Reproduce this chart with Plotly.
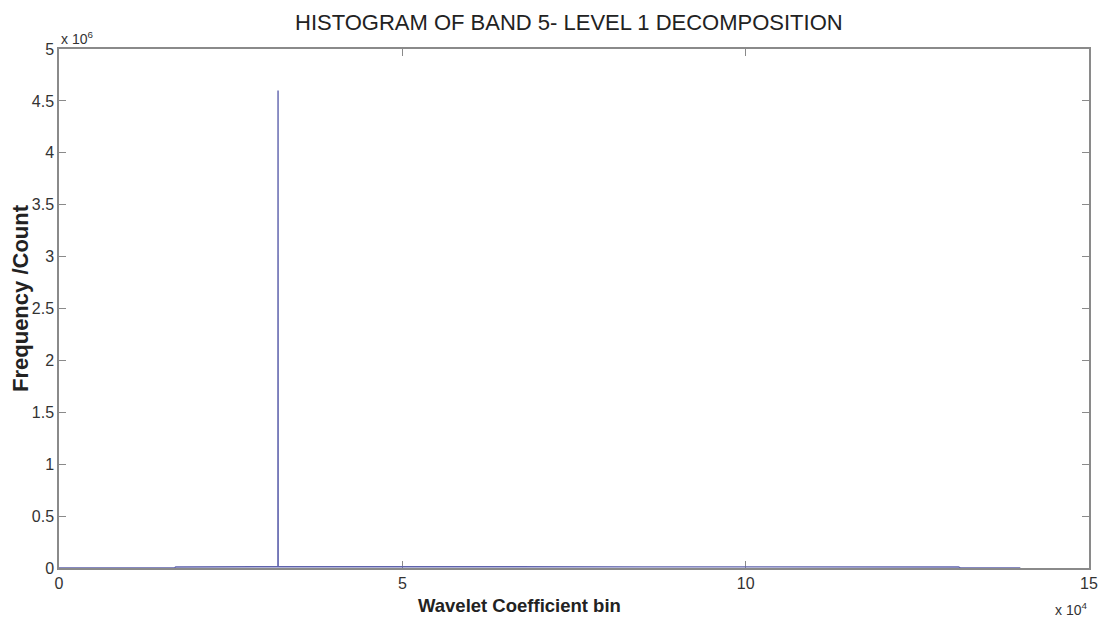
import plotly.graph_objects as go

# Histogram data (wavelet coefficient bin -> count)
bin_centers = [0, 16800, 17000, 24000, 31000, 31880, 31900, 31920, 32800, 40000, 55000,
               70000, 85000, 100000, 115000, 131000, 131300, 140000]
counts = [0, 0, 10000, 11000, 12000, 12000, 4600000, 12000, 12000, 11000, 11000,
          11000, 11000, 11000, 10000, 10000, 0, 0]

x_tick_vals = [0, 50000, 100000, 150000]
x_tick_text = ["0", "5", "10", "15"]
y_tick_vals = [0, 500000, 1000000, 1500000, 2000000, 2500000, 3000000, 3500000, 4000000, 4500000, 5000000]
y_tick_text = ["0", "0.5", "1", "1.5", "2", "2.5", "3", "3.5", "4", "4.5", "5"]

title_text = "HISTOGRAM OF BAND 5- LEVEL 1 DECOMPOSITION"
x_title = "Wavelet Coefficient bin"
y_title = "Frequency /Count"

font_family = "Liberation Sans, Arial, sans-serif"

fig = go.Figure()
fig.add_trace(go.Scatter(
    x=bin_centers, y=counts, mode="lines",
    line=dict(color="#5f63ad", width=1.4),
    showlegend=False, hoverinfo="x+y",
))

axis_common = dict(
    showline=True, linecolor="#8a8a8a", linewidth=1.5, mirror="ticks",
    ticks="inside", ticklen=7, tickcolor="#8a8a8a", showgrid=False, zeroline=False,
    automargin=False, layer="below traces",
    tickfont=dict(family=font_family, size=16, color="#333333"),
)

fig.update_layout(
    width=1102, height=625,
    margin=dict(l=59, r=13, t=49, b=57),
    paper_bgcolor="white", plot_bgcolor="white",
    xaxis=dict(range=[0, 150000], tickvals=x_tick_vals, ticktext=x_tick_text, **axis_common),
    yaxis=dict(range=[0, 5000000], tickvals=y_tick_vals, ticktext=y_tick_text, **axis_common),
    annotations=[
        dict(text=title_text, xref="paper", yref="paper", x=0.495, y=1.052, showarrow=False,
             xanchor="center", yanchor="middle",
             font=dict(family=font_family, size=22, color="#222222")),
        dict(text=x_title, xref="paper", yref="paper", x=0.447, y=-0.072, showarrow=False,
             xanchor="center", yanchor="middle",
             font=dict(family=font_family, size=18.5, color="#222222", weight="bold")),
        dict(text=y_title, xref="paper", yref="paper", x=-0.038, y=0.52, showarrow=False,
             textangle=-90, xanchor="center", yanchor="middle",
             font=dict(family=font_family, size=22, color="#222222", weight="bold")),
        dict(text="x 10<sup>6</sup>", xref="paper", yref="paper", x=0.0, y=1.0, showarrow=False,
             xanchor="left", yanchor="bottom",
             font=dict(family=font_family, size=14, color="#333333")),
        dict(text="x 10<sup>4</sup>", xref="paper", yref="paper", x=1.0, y=-0.058, showarrow=False,
             xanchor="right", yanchor="top",
             font=dict(family=font_family, size=14, color="#333333")),
    ],
)

fig.write_html("out.html", config={"displayModeBar": False},
               post_script="document.body.style.margin='0px';")
